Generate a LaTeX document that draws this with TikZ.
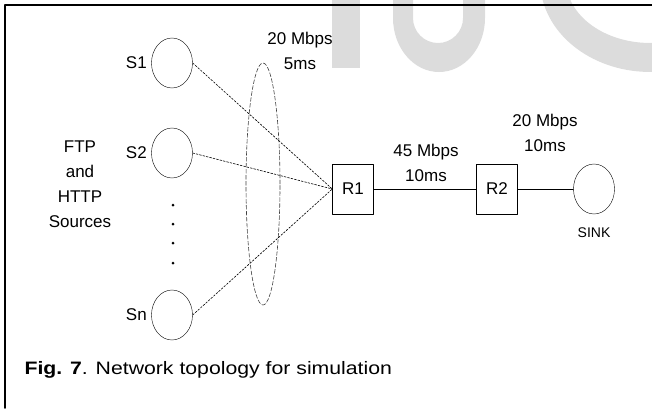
\documentclass[tikz,border=0pt]{standalone}
\usepackage{fontspec}
\setmainfont{Liberation Sans}
\usetikzlibrary{shapes.geometric}
\usetikzlibrary{positioning}
\definecolor{vesileima}{RGB}{220,220,220}

\begin{document}
\begin{tikzpicture}[line cap=round,line join=round,x=1pt,y=-1pt,
	every node/.style={font=\fontsize{17}{25}\selectfont},
	lahde/.style={ellipse,draw,minimum width=41pt,minimum height=50pt,inner sep=0pt},
	reititin/.style={rectangle,draw,minimum width=41pt,minimum height=50pt,inner sep=0pt},
	katko/.style={dash pattern=on 2pt off 1.5pt,line width=0.6pt},
	teksti/.style={align=center}]

		\useasboundingbox (0,0) rectangle (652,408);

		%vesileima
		\fill[vesileima] (332,0) rectangle (360,68);
		\fill[vesileima] (393,0) -- (393,18) arc[start angle=180, end angle=0, x radius=46, y radius=54]
			-- (485,0) -- (463,0) -- (463,18) arc[start angle=0, end angle=180, x radius=25, y radius=25]
			-- (413,0) -- cycle;
		\fill[vesileima] (542.6,0) arc[start angle=167.4, end angle=80, x radius=110, y radius=92]
			-- (664.6,42) arc[start angle=80, end angle=161.5, x radius=84, y radius=63] -- cycle;

		%kehys
		\draw[line width=1.6pt] (652,5) -- (5,5) -- (5,408);

		%lähteet
		\node[lahde] (s1) at (172,63) {};
		\node[lahde] (s2) at (172,153) {};
		\node[lahde] (sn) at (172,315) {};
		\node[left=1pt of s1] (s1t) {S1};
		\node[left=1pt of s2] (s2t) {S2};
		\node[left=1pt of sn] (snt) {Sn};
		\foreach \y in {205,224,243,263}
		{\fill (173,\y) circle [radius=1.5pt];}

		\node[teksti] (ftp) at (80,184) {FTP\\and\\HTTP\\Sources};

		%nippu
		\node[ellipse,draw,dash pattern=on 4pt off 2pt,line width=0.6pt,color=black!75,
			minimum width=34pt,minimum height=242pt,inner sep=0pt] (nippu) at (263,184) {};
		\node[teksti] (l1) at (300,51) {20 Mbps\\5ms};

		%reitittimet
		\node[reititin] (r1) at (353,189) {R1};
		\node[reititin] (r2) at (497,189) {R2};
		\node[lahde] (sink) at (594,189) {};
		\node[below=10pt of sink,font=\fontsize{14}{16}\selectfont] (sinkt) {SINK};

		%linkit
		\draw[katko] (s1.east) -- (r1.west);
		\draw[katko] (s2.east) -- (r1.west);
		\draw[katko] (sn.east) -- (r1.west);
		\draw (r1) -- (r2);
		\draw (r2) -- (sink);
		\node[teksti] (l2) at (426,163) {45 Mbps\\10ms};
		\node[teksti] (l3) at (545,133) {20 Mbps\\10ms};

		\node[anchor=west,font=\fontsize{18}{22}\selectfont] (kuvateksti) at (21,370)
			{\scalebox{1.18}[1]{\textbf{Fig. 7}. Network topology for simulation}};

	\end{tikzpicture}
\end{document}
